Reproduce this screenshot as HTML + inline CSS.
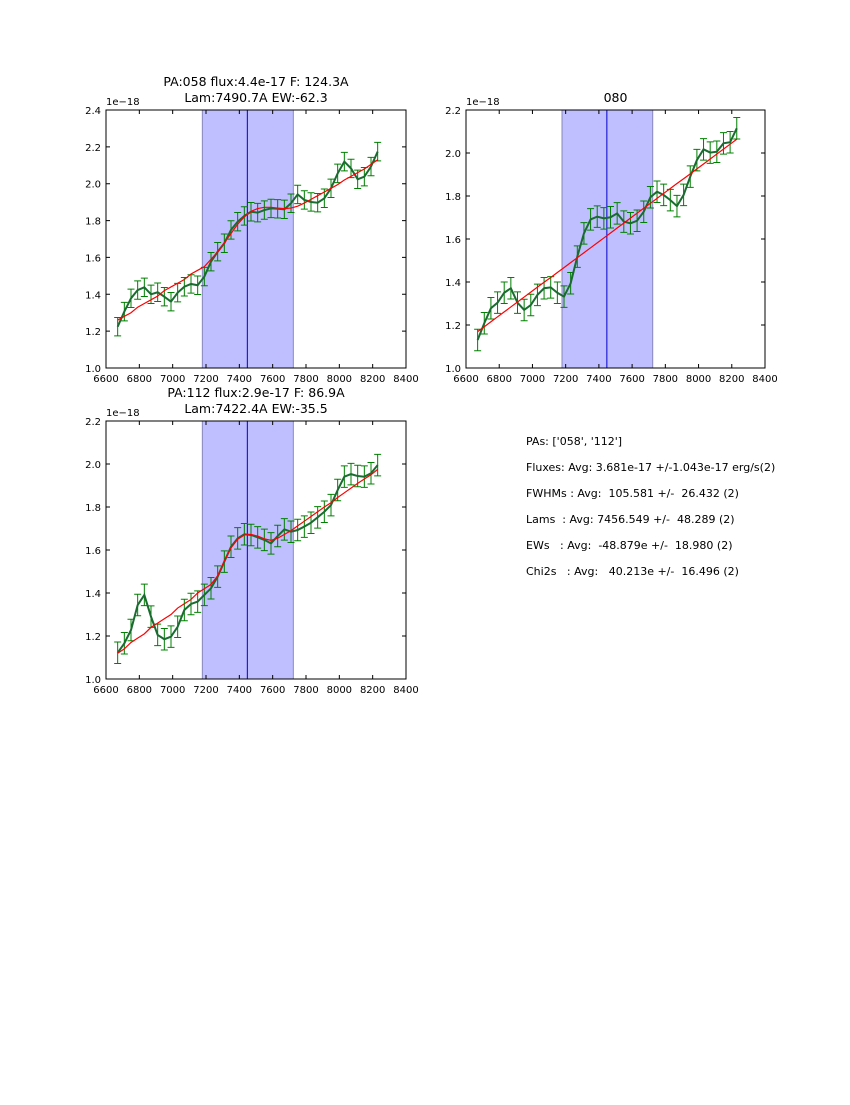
<!DOCTYPE html>
<html><head><meta charset="utf-8">
<style>
body{margin:0;background:#fff;}
svg text{font-family:"DejaVu Sans","Liberation Sans",sans-serif;white-space:pre;}
</style></head>
<body>
<svg id="fig" width="850" height="1100" xmlns="http://www.w3.org/2000/svg" xml:space="preserve">
<rect width="850" height="1100" fill="#fff"/>
<g font-size="11" fill="#000">
<text x="526" y="445">PAs: ['058', '112']</text>
<text x="526" y="471">Fluxes: Avg: 3.681e-17 +/-1.043e-17 erg/s(2)</text>
<text x="526" y="497">FWHMs : Avg:  105.581 +/-  26.432 (2)</text>
<text x="526" y="523">Lams  : Avg: 7456.549 +/-  48.289 (2)</text>
<text x="526" y="549">EWs   : Avg:  -48.879e +/-  18.980 (2)</text>
<text x="526" y="575">Chi2s   : Avg:   40.213e +/-  16.496 (2)</text>
</g>
</svg>
<script>
const waves = [];
for (let i = 0; i < 40; i++) waves.push(6670 + 40 * i);
const xTicks = [6600,6800,7000,7200,7400,7600,7800,8000,8200,8400];
const flux1 = [1.224,1.306,1.378,1.423,1.438,1.40,1.411,1.387,1.36,1.409,1.441,1.456,1.449,1.496,1.577,1.631,1.677,1.749,1.794,1.825,1.848,1.843,1.857,1.866,1.864,1.861,1.894,1.942,1.912,1.901,1.897,1.921,1.975,2.056,2.12,2.083,2.024,2.038,2.093,2.174];
const fit1 = [1.26,1.28,1.30,1.33,1.35,1.37,1.39,1.42,1.44,1.46,1.48,1.51,1.53,1.55,1.59,1.63,1.68,1.73,1.78,1.82,1.85,1.865,1.872,1.872,1.868,1.865,1.868,1.878,1.895,1.915,1.935,1.955,1.975,1.995,2.02,2.04,2.06,2.08,2.105,2.13];
const flux2 = [1.130,1.208,1.278,1.304,1.350,1.371,1.304,1.270,1.293,1.340,1.371,1.375,1.350,1.332,1.394,1.518,1.626,1.691,1.704,1.696,1.701,1.719,1.681,1.673,1.685,1.727,1.794,1.820,1.805,1.781,1.753,1.805,1.890,1.967,2.017,2.002,2.006,2.045,2.050,2.115];
const fit2 = [1.169,1.192,1.215,1.238,1.261,1.284,1.307,1.330,1.353,1.376,1.399,1.421,1.444,1.467,1.490,1.513,1.536,1.559,1.582,1.605,1.628,1.651,1.674,1.697,1.720,1.743,1.766,1.789,1.812,1.835,1.858,1.880,1.903,1.926,1.949,1.972,1.995,2.018,2.041,2.064];
const flux3 = [1.122,1.166,1.228,1.344,1.391,1.290,1.205,1.185,1.197,1.243,1.321,1.349,1.360,1.391,1.422,1.476,1.546,1.615,1.654,1.673,1.670,1.659,1.647,1.631,1.665,1.696,1.685,1.693,1.709,1.727,1.752,1.778,1.809,1.879,1.941,1.953,1.944,1.941,1.957,1.995];
const fit3 = [1.12,1.14,1.17,1.19,1.21,1.24,1.26,1.28,1.30,1.33,1.35,1.37,1.40,1.42,1.44,1.48,1.55,1.61,1.65,1.67,1.672,1.665,1.652,1.645,1.655,1.672,1.69,1.712,1.734,1.756,1.778,1.80,1.82,1.844,1.866,1.888,1.91,1.93,1.95,1.975];
const errSize = 0.05;
const bandLow = 7178, bandHigh = 7724;
const centers = [7448, 7448, 7448];

const NS = "http://www.w3.org/2000/svg";
const fig = document.getElementById('fig');
function mk(tag, attrs, parent) {
  const e = document.createElementNS(NS, tag);
  for (const k in attrs) e.setAttribute(k, attrs[k]);
  parent.appendChild(e);
  return e;
}
function panel(id, L, T, W, H, ymin, ymax, yTicks, flux, fit, titleLines) {
  const g = mk('g', {}, fig);
  
  
  const sx = v => L + (v - 6600) / 1800 * W;
  const sy = v => T + H - (v - ymin) / (ymax - ymin) * H;
  const band = mk('rect', {x: sx(bandLow), y: T, width: sx(bandHigh) - sx(bandLow), height: H, fill: '#bfbfff', stroke: '#8888bb', 'stroke-width': 1}, g);
  
  
  const cl = mk('line', {x1: sx(centers[0]), x2: sx(centers[0]), y1: T, y2: T + H, stroke: '#0000cc', 'stroke-width': 1}, g);
  
  
  for (let i = 0; i < waves.length; i++) {
    const x = sx(waves[i]), y1 = sy(flux[i] - errSize), y2 = sy(flux[i] + errSize);
    const eb = mk('path', {d: `M${x},${y1}V${y2}M${x-3.5},${y1}H${x+3.5}M${x-3.5},${y2}H${x+3.5}`, stroke: '#008000', 'stroke-width': 1, fill: 'none'}, g);
    
    
  }
  const dl = mk('polyline', {points: waves.map((w, i) => sx(w) + ',' + sy(flux[i])).join(' '), fill: 'none', stroke: '#1a6b30', 'stroke-width': 2}, g);
  
  
  const fl = mk('polyline', {points: waves.map((w, i) => sx(w) + ',' + sy(fit[i])).join(' '), fill: 'none', stroke: '#ff0000', 'stroke-width': 1.2}, g);
  
  
  const fr = mk('rect', {x: L, y: T, width: W, height: H, fill: 'none', stroke: '#000', 'stroke-width': 1}, g);
  
  
  xTicks.forEach(t => {
    const x = sx(t);
    mk('path', {d: `M${x},${T+H}v-4M${x},${T}v4`, stroke: '#000'}, g);
    const tx = mk('text', {x: x, y: T + H + 14, 'font-size': 10, 'text-anchor': 'middle'}, g);
    tx.textContent = t;
    
    
  });
  yTicks.forEach(t => {
    const y = sy(t);
    mk('path', {d: `M${L},${y}h4M${L+W},${y}h-4`, stroke: '#000'}, g);
    const tx = mk('text', {x: L - 5, y: y + 4, 'font-size': 10, 'text-anchor': 'end'}, g);
    tx.textContent = t.toFixed(1);
    
    
  });
  const off = mk('text', {x: L, y: T - 5, 'font-size': 10}, g);
  off.textContent = '1e\u221218';
  
  
  titleLines.forEach((s, k) => {
    const tt = mk('text', {x: L + W / 2, y: T - 8 - (titleLines.length - 1 - k) * 16, 'font-size': 12.5, 'text-anchor': 'middle'}, g);
    tt.textContent = s;
    
    
  });
}
panel('058', 106, 110, 300, 258, 1.0, 2.4, [1.0,1.2,1.4,1.6,1.8,2.0,2.2,2.4], flux1, fit1, ['PA:058 flux:4.4e-17 F: 124.3A', 'Lam:7490.7A EW:-62.3']);
panel('080', 466, 110, 299, 258, 1.0, 2.2, [1.0,1.2,1.4,1.6,1.8,2.0,2.2], flux2, fit2, ['080']);
panel('112', 106, 421, 300, 258, 1.0, 2.2, [1.0,1.2,1.4,1.6,1.8,2.0,2.2], flux3, fit3, ['PA:112 flux:2.9e-17 F: 86.9A', 'Lam:7422.4A EW:-35.5']);
</script>
</body></html>
